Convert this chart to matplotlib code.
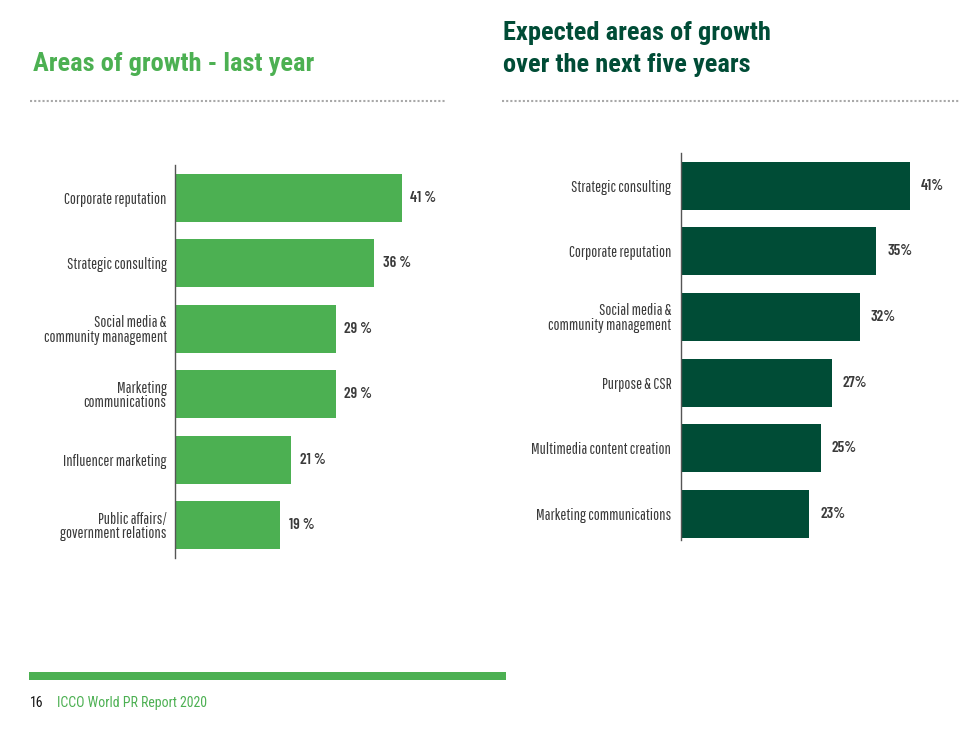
import matplotlib.pyplot as plt
from matplotlib.lines import Line2D
from matplotlib.patches import Rectangle

# data
last_year_labels = ['Corporate reputation', 'Strategic consulting', 'Social media &\ncommunity management',
                    'Marketing\ncommunications', 'Influencer marketing', 'Public affairs/\ngovernment relations']
last_year_values = [41, 36, 29, 29, 21, 19]

next_five_labels = ['Strategic consulting', 'Corporate reputation', 'Social media &\ncommunity management',
                    'Purpose & CSR', 'Multimedia content creation', 'Marketing communications']
next_five_values = [41, 35, 32, 27, 25, 23]

light_green = '#4cb052'
dark_green = '#004c36'
text_grey = '#3a3a3a'
label_font = ['Pathway Gothic One', 'DejaVu Sans']
value_font = ['Barlow Condensed', 'DejaVu Sans']
title_font = ['Roboto Condensed', 'DejaVu Sans']

W, H = 960, 731
fig = plt.figure(figsize=(W / 100, H / 100), dpi=100)


def rect(x0, y_top, x1, y_bottom):
    return [x0 / W, 1 - y_bottom / H, (x1 - x0) / W, (y_bottom - y_top) / H]


def draw_bars(ax, labels, values, color, fmt, tick_pad, label_pad, ylim):
    pos = range(len(values))
    bars = ax.barh(pos, values, height=0.73, color=color)
    ax.set_ylim(*ylim)
    ax.set_xlim(0, 50)
    ax.set_yticks(list(pos))
    ax.set_yticklabels(labels, fontfamily=label_font, fontsize=11.5, color=text_grey, linespacing=0.95)
    ax.tick_params(axis='y', length=0, pad=tick_pad)
    ax.set_xticks([])
    for side in ['top', 'right', 'bottom']:
        ax.spines[side].set_visible(False)
    ax.spines['left'].set_color('#555555')
    ax.spines['left'].set_linewidth(1)
    ax.bar_label(bars, labels=[fmt.format(v) for v in values], padding=label_pad,
                 fontfamily=value_font, fontsize=11, fontweight=600, color=text_grey)
    ax.patch.set_alpha(0)


ax1 = fig.add_axes(rect(175, 165, 452, 558))
draw_bars(ax1, last_year_labels, last_year_values, light_green, '{} %', 6, 6, (5.5, -0.5))

ax2 = fig.add_axes(rect(681, 153, 960, 540))
draw_bars(ax2, next_five_labels, next_five_values, dark_green, '{}%', 7, 8, (5.4, -0.5))

# titles
fig.text(33 / W, 1 - 64 / H, 'Areas of growth - last year', fontfamily=title_font, fontsize=19,
         fontweight='bold', color=light_green, va='center', ha='left')
fig.text(503 / W, 1 - 49 / H, 'Expected areas of growth\nover the next five years', fontfamily=title_font,
         fontsize=19, fontweight='bold', color=dark_green, va='center', ha='left', linespacing=1.4)

# dotted separators
fig.add_artist(Line2D([30 / W, 446 / W], [1 - 101 / H] * 2, color='#a8a8a8', lw=1.5, ls=(0, (1, 1))))
fig.add_artist(Line2D([502 / W, 960 / W], [1 - 101 / H] * 2, color='#a8a8a8', lw=1.5, ls=(0, (1, 1))))

# footer
fig.add_artist(Rectangle((29 / W, 1 - 680 / H), 477 / W, 8 / H, color=light_green, lw=0))
fig.text(30 / W, 1 - 703 / H, '16', fontfamily=title_font, fontsize=10, color='#111111', va='center')
fig.text(57 / W, 1 - 703 / H, 'ICCO World PR Report 2020', fontfamily=title_font, fontsize=10,
         color=light_green, va='center')

fig.savefig('out.png', dpi=100, facecolor='white')
